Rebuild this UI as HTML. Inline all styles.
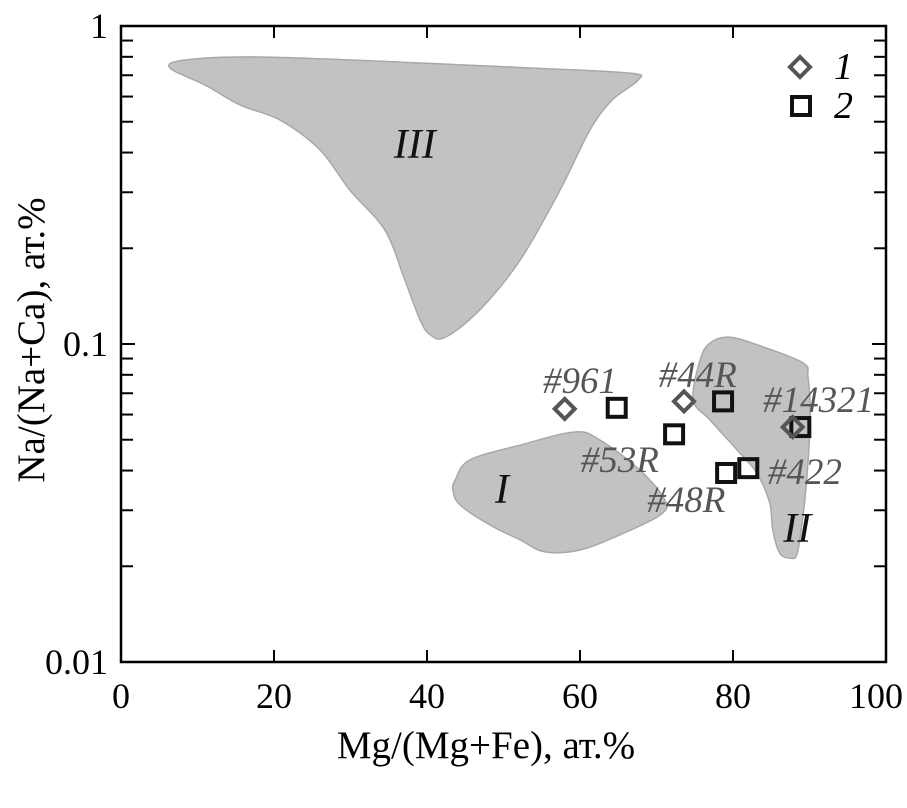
<!DOCTYPE html>
<html><head><meta charset="utf-8"><style>
body{margin:0;background:#fff}
svg text{font-family:"Liberation Serif",serif}
</style></head><body>
<svg id="c" width="907" height="803" viewBox="0 0 907 803" xmlns="http://www.w3.org/2000/svg"></svg>
<script>
const xTicks=[0,20,40,60,80,100];
const yTicks=[0.01,0.1,1];
const yTickLabels=["0.01","0.1","1"];
const s1X=[58.0,73.6,87.8];
const s1Y=[0.0625,0.066,0.0548];
const s2X=[64.8,72.3,78.7,79.1,82.0,88.8];
const s2Y=[0.063,0.052,0.066,0.0393,0.0407,0.0548];
const regionIIIx=[6.4,8.4,18.2,36.5,53.5,66.5,67.6,64.2,61.3,57.4,52.2,46.9,42.4,40.4,39.1,37.1,34.5,29.9,26.0,20.8,15.6,11.0];
const regionIIIy=[0.738,0.782,0.799,0.770,0.738,0.711,0.676,0.585,0.471,0.305,0.184,0.128,0.105,0.107,0.119,0.159,0.228,0.305,0.408,0.506,0.564,0.652];
const regionIx=[43.7,45.6,52.2,59.3,62.6,67.8,71.1,70.5,65.2,60.0,55.4,52.2,48.2,44.3,43.4];
const regionIy=[0.0374,0.0432,0.0481,0.0529,0.0499,0.0402,0.0323,0.029,0.0251,0.0225,0.0222,0.0242,0.027,0.0312,0.0347];
const regionIIx=[77.0,79.6,83.9,89.2,89.8,90.1,89.8,89.2,88.4,87.5,86.1,85.2,84.8,83.1,80.5,77.0,74.8,75.7];
const regionIIy=[0.1007,0.105,0.098,0.0871,0.0787,0.0607,0.0423,0.0294,0.022,0.0212,0.022,0.026,0.0316,0.0393,0.0465,0.0577,0.0667,0.0891];
const pointLabels=["#961","#44R","#14321","#53R","#48R","#422"];
const labelX=[60.0,75.4,91.2,65.2,73.9,89.4];
const labelY=[0.077,0.0805,0.0672,0.0435,0.0326,0.0399];
const regionLabels=["III","I","II"];
const regionLabelX=[38.4,49.8,88.4];
const regionLabelY=[0.428,0.0352,0.0266];

const L=121,R=886,T=26,B=662;
const X=v=>L+(v-0)/(100-0)*(R-L);
const Y=v=>T+(0-Math.log10(v))/2*(B-T);
const svg=document.getElementById('c');
const NS='http://www.w3.org/2000/svg';
function mk(tag,attrs,parent){const e=document.createElementNS(NS,tag);for(const k in attrs)e.setAttribute(k,attrs[k]);(parent||svg).appendChild(e);return e;}
function smooth(xs,ys){
  const p=xs.map((x,i)=>[X(x),Y(ys[i])]);const n=p.length;
  let d=`M${p[0][0]},${p[0][1]}`;
  for(let i=0;i<n;i++){const p0=p[(i-1+n)%n],p1=p[i],p2=p[(i+1)%n],p3=p[(i+2)%n];
    const c1=[p1[0]+(p2[0]-p0[0])/6,p1[1]+(p2[1]-p0[1])/6],c2=[p2[0]-(p3[0]-p1[0])/6,p2[1]-(p3[1]-p1[1])/6];
    d+=` C${c1[0]},${c1[1]} ${c2[0]},${c2[1]} ${p2[0]},${p2[1]}`;}
  return d+'Z';}
const regs=[[regionIIIx,regionIIIy,'region-iii'],[regionIx,regionIy,'region-i'],[regionIIx,regionIIy,'region-ii']];
regs.forEach(r=>{const e=mk('path',{d:smooth(r[0],r[1]),fill:'#c2c2c2',stroke:'#a8a8a8','stroke-width':1.5});

});
regionLabels.forEach((s,i)=>{const e=mk('text',{x:X(regionLabelX[i]),y:Y(regionLabelY[i])+15,'font-size':42,'font-style':'italic','text-anchor':'middle',fill:'#111'});e.textContent=s;

});
const fr=mk('rect',{x:L,y:T,width:R-L,height:B-T,fill:'none',stroke:'#000','stroke-width':2.5});


xTicks.forEach(v=>{const x=X(v);
 mk('line',{x1:x,x2:x,y1:B,y2:B-12,stroke:'#000','stroke-width':2});
 mk('line',{x1:x,x2:x,y1:T,y2:T+12,stroke:'#000','stroke-width':2});
 const t=mk('text',{x:v===100?x-10:x,y:B+46,'font-size':36,'text-anchor':'middle'});t.textContent=v;
 
 });
for(let d=-2;d<0;d++)for(let m=2;m<=9;m++){const y=Y(m*Math.pow(10,d));
 mk('line',{x1:L,x2:L+12,y1:y,y2:y,stroke:'#000','stroke-width':2});
 mk('line',{x1:R,x2:R-12,y1:y,y2:y,stroke:'#000','stroke-width':2});}
yTicks.forEach((v,i)=>{const y=Y(v);
 mk('line',{x1:L,x2:L+14,y1:y,y2:y,stroke:'#000','stroke-width':2});
 mk('line',{x1:R,x2:R-14,y1:y,y2:y,stroke:'#000','stroke-width':2});
 const t=mk('text',{x:L-13,y:y+12,'font-size':36,'text-anchor':'end'});t.textContent=yTickLabels[i];
 
 });
function diamond(cx,cy){return mk('path',{d:`M${cx},${cy-10} L${cx+10},${cy} L${cx},${cy+10} L${cx-10},${cy}Z`,fill:'none',stroke:'#555','stroke-width':4});}
function square(cx,cy){return mk('rect',{x:cx-9,y:cy-9,width:18,height:18,fill:'none',stroke:'#111','stroke-width':4});}
s2X.forEach((v,i)=>{const e=square(X(v),Y(s2Y[i]));

});
s1X.forEach((v,i)=>{const e=diamond(X(v),Y(s1Y[i]));

});
pointLabels.forEach((s,i)=>{const t=mk('text',{x:X(labelX[i]),y:Y(labelY[i])+13,'font-size':37,'font-style':'italic','text-anchor':'middle',fill:'#555'});t.textContent=s;

});
const l1=diamond(800,67);
const l2=square(801,106);
[['1',67],['2',106]].forEach(a=>{const t=mk('text',{x:834,y:a[1]+12,'font-size':38,'font-style':'italic'});t.textContent=a[0];

});
const xt=mk('text',{x:486,y:758,'font-size':39,'text-anchor':'middle'});xt.textContent='Mg/(Mg+Fe), ат.%';


const yt=mk('text',{x:0,y:0,'font-size':39,'text-anchor':'middle',transform:'translate(44,340) rotate(-90)'});yt.textContent='Na/(Na+Ca), ат.%';


</script>
</body></html>
